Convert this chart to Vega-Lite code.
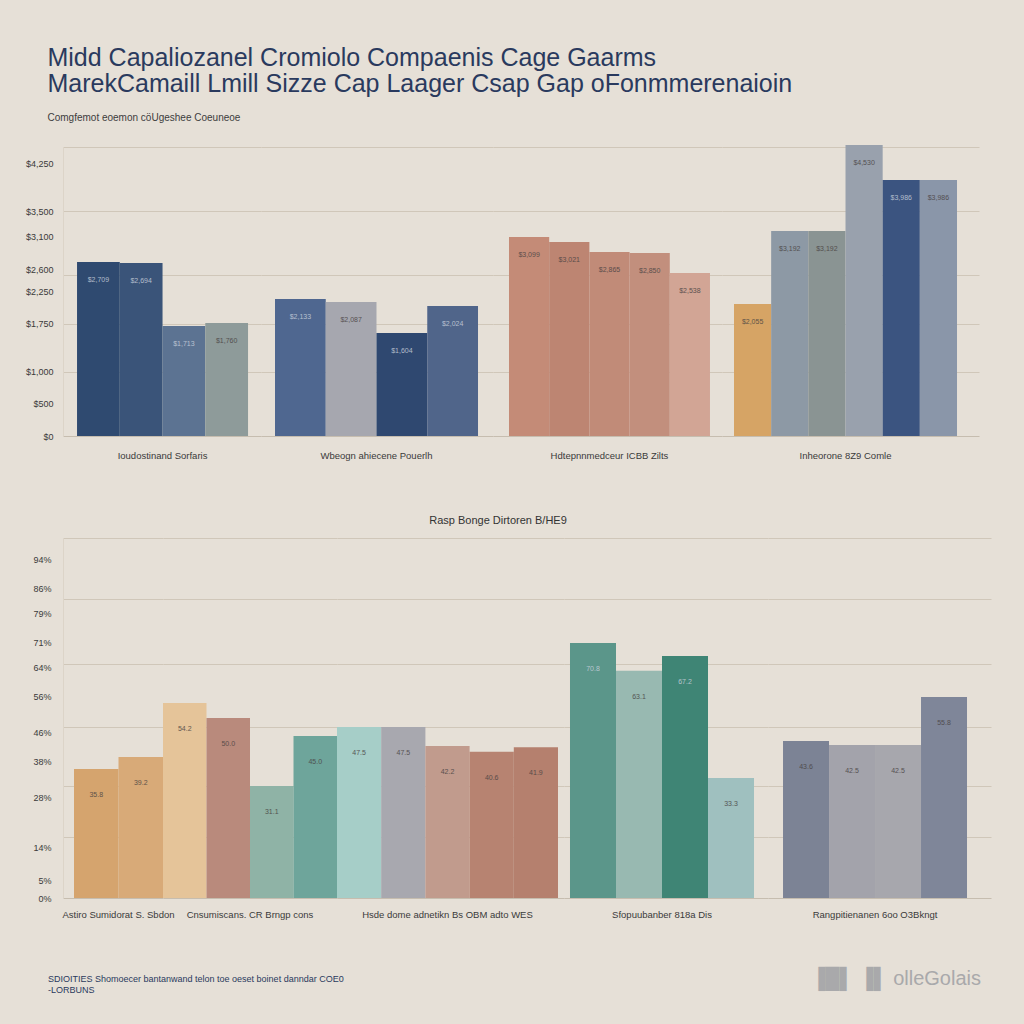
{
  "$schema": "https://vega.github.io/schema/vega-lite/v6.json",
  "background": "#e6e0d7",
  "padding": {"left": 25, "top": 46, "right": 36, "bottom": 32},
  "title": {
    "text": ["Midd  Capaliozanel Cromiolo Compaenis Cage Gaarms", "MarekCamaill  Lmill Sizze Cap  Laager Csap Gap  oFonmmerenaioin"],
    "subtitle": "Comgfemot eoemon cöUgeshee Coeuneoe",
    "anchor": "start", "fontSize": 25, "fontWeight": "normal", "color": "#2a3a5e", "lineHeight": 26,
    "subtitleFontSize": 10, "subtitleColor": "#3d3d3d", "subtitlePadding": 16, "offset": 22, "dx": 22
  },
  "data": {"name": "bars"},
  "datasets": {
    "bars": [
      {"panel": "P1", "group": "Ioudostinand Sorfaris", "bar": "T01", "value": 2709},
      {"panel": "P1", "group": "Ioudostinand Sorfaris", "bar": "T02", "value": 2694},
      {"panel": "P1", "group": "Ioudostinand Sorfaris", "bar": "T03", "value": 1713},
      {"panel": "P1", "group": "Ioudostinand Sorfaris", "bar": "T04", "value": 1760},
      {"panel": "P2", "group": "Wbeogn ahiecene Pouerlh", "bar": "T05", "value": 2133},
      {"panel": "P2", "group": "Wbeogn ahiecene Pouerlh", "bar": "T06", "value": 2087},
      {"panel": "P2", "group": "Wbeogn ahiecene Pouerlh", "bar": "T07", "value": 1604},
      {"panel": "P2", "group": "Wbeogn ahiecene Pouerlh", "bar": "T08", "value": 2024},
      {"panel": "P3", "group": "Hdtepnnmedceur ICBB Zilts", "bar": "T09", "value": 3099},
      {"panel": "P3", "group": "Hdtepnnmedceur ICBB Zilts", "bar": "T10", "value": 3021},
      {"panel": "P3", "group": "Hdtepnnmedceur ICBB Zilts", "bar": "T11", "value": 2865},
      {"panel": "P3", "group": "Hdtepnnmedceur ICBB Zilts", "bar": "T12", "value": 2850},
      {"panel": "P3", "group": "Hdtepnnmedceur ICBB Zilts", "bar": "T13", "value": 2538},
      {"panel": "P4", "group": "Inheorone 8Z9 Comle", "bar": "T14", "value": 2055},
      {"panel": "P4", "group": "Inheorone 8Z9 Comle", "bar": "T15", "value": 3192},
      {"panel": "P4", "group": "Inheorone 8Z9 Comle", "bar": "T16", "value": 3192},
      {"panel": "P4", "group": "Inheorone 8Z9 Comle", "bar": "T17", "value": 4530},
      {"panel": "P4", "group": "Inheorone 8Z9 Comle", "bar": "T18", "value": 3986},
      {"panel": "P4", "group": "Inheorone 8Z9 Comle", "bar": "T19", "value": 3986},
      {"panel": "Q1", "group": "Astiro Sumidorat S. Sbdon", "bar": "B01", "value": 35.8},
      {"panel": "Q1", "group": "Astiro Sumidorat S. Sbdon", "bar": "B02", "value": 39.2},
      {"panel": "Q2", "group": "Cnsumiscans. CR Brngp cons", "bar": "B03", "value": 54.2},
      {"panel": "Q2", "group": "Cnsumiscans. CR Brngp cons", "bar": "B04", "value": 50.0},
      {"panel": "Q2", "group": "Cnsumiscans. CR Brngp cons", "bar": "B05", "value": 31.1},
      {"panel": "Q2", "group": "Cnsumiscans. CR Brngp cons", "bar": "B06", "value": 45.0},
      {"panel": "Q3", "group": "Hsde dome adnetikn Bs OBM adto WES", "bar": "B07", "value": 47.5},
      {"panel": "Q3", "group": "Hsde dome adnetikn Bs OBM adto WES", "bar": "B08", "value": 47.5},
      {"panel": "Q3", "group": "Hsde dome adnetikn Bs OBM adto WES", "bar": "B09", "value": 42.2},
      {"panel": "Q3", "group": "Hsde dome adnetikn Bs OBM adto WES", "bar": "B10", "value": 40.6},
      {"panel": "Q3", "group": "Hsde dome adnetikn Bs OBM adto WES", "bar": "B11", "value": 41.9},
      {"panel": "Q4", "group": "Sfopuubanber 818a Dis", "bar": "B12", "value": 70.8},
      {"panel": "Q4", "group": "Sfopuubanber 818a Dis", "bar": "B13", "value": 63.1},
      {"panel": "Q4", "group": "Sfopuubanber 818a Dis", "bar": "B14", "value": 67.2},
      {"panel": "Q4", "group": "Sfopuubanber 818a Dis", "bar": "B15", "value": 33.3},
      {"panel": "Q5", "group": "Rangpitienanen 6oo O3Bkngt", "bar": "B16", "value": 43.6},
      {"panel": "Q5", "group": "Rangpitienanen 6oo O3Bkngt", "bar": "B17", "value": 42.5},
      {"panel": "Q5", "group": "Rangpitienanen 6oo O3Bkngt", "bar": "B18", "value": 42.5},
      {"panel": "Q5", "group": "Rangpitienanen 6oo O3Bkngt", "bar": "B19", "value": 55.8}
    ]
  },
  "spacing": 55,
  "vconcat": [
    {
      "hconcat": [
        {
          "width": 198, "height": 289,
          "transform": [{"filter": "datum.panel == 'P1'"}],
          "encoding": {
            "x": {"field": "group", "type": "nominal", "title": null, "scale": {"paddingInner": 0, "paddingOuter": 0.0789, "align": 0.52}, "axis": {"labelAngle": 0, "labelFontSize": 9.5, "labelPadding": 14, "labelLimit": 0}},
            "xOffset": {"field": "bar", "type": "nominal", "scale": {"paddingInner": 0, "paddingOuter": 0}},
            "y": {"field": "value", "type": "quantitative", "title": null, "scale": {"domain": [0, 4500], "nice": false}, "axis": {"values": [0, 500, 1000, 1750, 2250, 2500, 2600, 3100, 3500, 4250, 4500], "labelExpr": "indexof([0, 500, 1000, 1750, 2250, 2600, 3100, 3500, 4250], datum.value) >= 0 ? format(datum.value, '$,') : ''", "gridColor": {"condition": {"test": "indexof([1000, 1750, 2500, 3500, 4500], datum.value) >= 0", "value": "#d0c7b9"}, "value": "rgba(0,0,0,0)"}, "labelFontSize": 9, "labelPadding": 10, "domainColor": "#dcd4c8"}}
          },
          "layer": [
            {"mark": {"type": "bar"}, "encoding": {"color": {"field": "bar", "type": "nominal", "legend": null}}},
            {"mark": {"type": "text", "baseline": "top", "dy": 14, "fontSize": 7, "opacity": 0.85}, "encoding": {"text": {"field": "value", "type": "quantitative", "format": "$,.0f"}, "color": {"condition": {"test": "indexof(['T01','T02','T03','T05','T07','T08','T18','B12','B14'], datum.bar) >= 0", "value": "#c8d0dc"}, "value": "#4a4444"}}}
          ]
        },
        {
          "width": 232, "height": 289,
          "transform": [{"filter": "datum.panel == 'P2'"}],
          "encoding": {
            "x": {"field": "group", "type": "nominal", "title": null, "scale": {"paddingInner": 0, "paddingOuter": 0.0714, "align": 0.483}, "axis": {"labelAngle": 0, "labelFontSize": 9.5, "labelPadding": 14, "labelLimit": 0}},
            "xOffset": {"field": "bar", "type": "nominal", "scale": {"paddingInner": 0, "paddingOuter": 0}},
            "y": {"field": "value", "type": "quantitative", "title": null, "scale": {"domain": [0, 4500], "nice": false}, "axis": {"values": [1000, 1750, 2500, 3500, 4500], "labels": false, "domain": false, "gridColor": "#d0c7b9"}}
          },
          "layer": [
            {"mark": {"type": "bar"}, "encoding": {"color": {"field": "bar", "type": "nominal", "legend": null}}},
            {"mark": {"type": "text", "baseline": "top", "dy": 14, "fontSize": 7, "opacity": 0.85}, "encoding": {"text": {"field": "value", "type": "quantitative", "format": "$,.0f"}, "color": {"condition": {"test": "indexof(['T01','T02','T03','T05','T07','T08','T18','B12','B14'], datum.bar) >= 0", "value": "#c8d0dc"}, "value": "#4a4444"}}}
          ]
        },
        {
          "width": 229, "height": 289,
          "transform": [{"filter": "datum.panel == 'P3'"}],
          "encoding": {
            "x": {"field": "group", "type": "nominal", "title": null, "scale": {"paddingInner": 0, "paddingOuter": 0.0697, "align": 0.571}, "axis": {"labelAngle": 0, "labelFontSize": 9.5, "labelPadding": 14, "labelLimit": 0}},
            "xOffset": {"field": "bar", "type": "nominal", "scale": {"paddingInner": 0, "paddingOuter": 0}},
            "y": {"field": "value", "type": "quantitative", "title": null, "scale": {"domain": [0, 4500], "nice": false}, "axis": {"values": [1000, 1750, 2500, 3500, 4500], "labels": false, "domain": false, "gridColor": "#d0c7b9"}}
          },
          "layer": [
            {"mark": {"type": "bar"}, "encoding": {"color": {"field": "bar", "type": "nominal", "legend": null}}},
            {"mark": {"type": "text", "baseline": "top", "dy": 14, "fontSize": 7, "opacity": 0.85}, "encoding": {"text": {"field": "value", "type": "quantitative", "format": "$,.0f"}, "color": {"condition": {"test": "indexof(['T01','T02','T03','T05','T07','T08','T18','B12','B14'], datum.bar) >= 0", "value": "#c8d0dc"}, "value": "#4a4444"}}}
          ]
        },
        {
          "width": 257, "height": 289,
          "transform": [{"filter": "datum.panel == 'P4'"}],
          "encoding": {
            "x": {"field": "group", "type": "nominal", "title": null, "scale": {"paddingInner": 0, "paddingOuter": 0.0762, "align": 0.353}, "axis": {"labelAngle": 0, "labelFontSize": 9.5, "labelPadding": 14, "labelLimit": 0}},
            "xOffset": {"field": "bar", "type": "nominal", "scale": {"paddingInner": 0, "paddingOuter": 0}},
            "y": {"field": "value", "type": "quantitative", "title": null, "scale": {"domain": [0, 4500], "nice": false}, "axis": {"values": [1000, 1750, 2500, 3500, 4500], "labels": false, "domain": false, "gridColor": "#d0c7b9"}}
          },
          "layer": [
            {"mark": {"type": "bar"}, "encoding": {"color": {"field": "bar", "type": "nominal", "legend": null}}},
            {"mark": {"type": "text", "baseline": "top", "dy": 14, "fontSize": 7, "opacity": 0.85}, "encoding": {"text": {"field": "value", "type": "quantitative", "format": "$,.0f"}, "color": {"condition": {"test": "indexof(['T01','T02','T03','T05','T07','T08','T18','B12','B14'], datum.bar) >= 0", "value": "#c8d0dc"}, "value": "#4a4444"}}}
          ]
        }
      ],
      "spacing": 0,
      "bounds": "flush",
      "resolve": {"scale": {"x": "independent", "xOffset": "independent", "y": "independent"}}
    },
    {
      "vconcat": [
        {
          "vconcat": [
            {
              "title": {"text": "Rasp Bonge Dirtoren B/HE9", "anchor": "middle", "fontSize": 11, "fontWeight": "normal", "color": "#333333", "offset": 12, "dx": -14},
              "hconcat": [
                {
                  "width": 100, "height": 360,
                  "transform": [{"filter": "datum.panel == 'Q1'"}],
                  "encoding": {
                    "x": {"field": "group", "type": "nominal", "title": null, "scale": {"paddingInner": 0, "paddingOuter": 0.0618, "align": 1}, "axis": {"labelAngle": 0, "labelFontSize": 9.5, "labelPadding": 11, "labelLimit": 0}},
                    "xOffset": {"field": "bar", "type": "nominal", "scale": {"paddingInner": 0, "paddingOuter": 0}},
                    "y": {"field": "value", "type": "quantitative", "title": null, "scale": {"domain": [0, 100], "nice": false}, "axis": {"values": [0, 5, 14, 17, 28, 31, 38, 46, 47.5, 56, 64, 65, 71, 79, 83, 86, 94, 100], "labelExpr": "indexof([0, 5, 14, 28, 38, 46, 56, 64, 71, 79, 86, 94], datum.value) >= 0 ? datum.value + '%' : ''", "gridColor": {"condition": {"test": "indexof([17, 31, 47.5, 65, 83, 100], datum.value) >= 0", "value": "#d0c7b9"}, "value": "rgba(0,0,0,0)"}, "labelFontSize": 9, "labelPadding": 12, "domainColor": "#dcd4c8"}}
                  },
                  "layer": [
                    {"mark": {"type": "bar"}, "encoding": {"color": {"field": "bar", "type": "nominal", "legend": null}}},
                    {"mark": {"type": "text", "baseline": "top", "dy": 22, "fontSize": 7, "opacity": 0.85}, "encoding": {"text": {"field": "value", "type": "quantitative", "format": ".1f"}, "color": {"condition": {"test": "indexof(['T01','T02','T03','T05','T07','T08','T18','B12','B14'], datum.bar) >= 0", "value": "#c8d0dc"}, "value": "#4a4444"}}}
                  ]
                },
                {
                  "width": 174, "height": 360,
                  "transform": [{"filter": "datum.panel == 'Q2'"}],
                  "encoding": {
                    "x": {"field": "group", "type": "nominal", "title": null, "scale": {"paddingInner": 0, "paddingOuter": 0, "align": 0.5}, "axis": {"labelAngle": 0, "labelFontSize": 9.5, "labelPadding": 11, "labelLimit": 0}},
                    "xOffset": {"field": "bar", "type": "nominal", "scale": {"paddingInner": 0, "paddingOuter": 0}},
                    "y": {"field": "value", "type": "quantitative", "title": null, "scale": {"domain": [0, 100], "nice": false}, "axis": {"values": [17, 31, 47.5, 65, 83, 100], "labels": false, "domain": false, "gridColor": "#d0c7b9"}}
                  },
                  "layer": [
                    {"mark": {"type": "bar"}, "encoding": {"color": {"field": "bar", "type": "nominal", "legend": null}}},
                    {"mark": {"type": "text", "baseline": "top", "dy": 22, "fontSize": 7, "opacity": 0.85}, "encoding": {"text": {"field": "value", "type": "quantitative", "format": ".1f"}, "color": {"condition": {"test": "indexof(['T01','T02','T03','T05','T07','T08','T18','B12','B14'], datum.bar) >= 0", "value": "#c8d0dc"}, "value": "#4a4444"}}}
                  ]
                },
                {
                  "width": 227, "height": 360,
                  "transform": [{"filter": "datum.panel == 'Q3'"}],
                  "encoding": {
                    "x": {"field": "group", "type": "nominal", "title": null, "scale": {"paddingInner": 0, "paddingOuter": 0.01357, "align": 0}, "axis": {"labelAngle": 0, "labelFontSize": 9.5, "labelPadding": 11, "labelLimit": 0}},
                    "xOffset": {"field": "bar", "type": "nominal", "scale": {"paddingInner": 0, "paddingOuter": 0}},
                    "y": {"field": "value", "type": "quantitative", "title": null, "scale": {"domain": [0, 100], "nice": false}, "axis": {"values": [17, 31, 47.5, 65, 83, 100], "labels": false, "domain": false, "gridColor": "#d0c7b9"}}
                  },
                  "layer": [
                    {"mark": {"type": "bar"}, "encoding": {"color": {"field": "bar", "type": "nominal", "legend": null}}},
                    {"mark": {"type": "text", "baseline": "top", "dy": 22, "fontSize": 7, "opacity": 0.85}, "encoding": {"text": {"field": "value", "type": "quantitative", "format": ".1f"}, "color": {"condition": {"test": "indexof(['T01','T02','T03','T05','T07','T08','T18','B12','B14'], datum.bar) >= 0", "value": "#c8d0dc"}, "value": "#4a4444"}}}
                  ]
                },
                {
                  "width": 204, "height": 360,
                  "transform": [{"filter": "datum.panel == 'Q4'"}],
                  "encoding": {
                    "x": {"field": "group", "type": "nominal", "title": null, "scale": {"paddingInner": 0, "paddingOuter": 0.0543, "align": 0.3}, "axis": {"labelAngle": 0, "labelFontSize": 9.5, "labelPadding": 11, "labelLimit": 0}},
                    "xOffset": {"field": "bar", "type": "nominal", "scale": {"paddingInner": 0, "paddingOuter": 0}},
                    "y": {"field": "value", "type": "quantitative", "title": null, "scale": {"domain": [0, 100], "nice": false}, "axis": {"values": [17, 31, 47.5, 65, 83, 100], "labels": false, "domain": false, "gridColor": "#d0c7b9"}}
                  },
                  "layer": [
                    {"mark": {"type": "bar"}, "encoding": {"color": {"field": "bar", "type": "nominal", "legend": null}}},
                    {"mark": {"type": "text", "baseline": "top", "dy": 22, "fontSize": 7, "opacity": 0.85}, "encoding": {"text": {"field": "value", "type": "quantitative", "format": ".1f"}, "color": {"condition": {"test": "indexof(['T01','T02','T03','T05','T07','T08','T18','B12','B14'], datum.bar) >= 0", "value": "#c8d0dc"}, "value": "#4a4444"}}}
                  ]
                },
                {
                  "width": 223, "height": 360,
                  "transform": [{"filter": "datum.panel == 'Q5'"}],
                  "encoding": {
                    "x": {"field": "group", "type": "nominal", "title": null, "scale": {"paddingInner": 0, "paddingOuter": 0.106, "align": 0.385}, "axis": {"labelAngle": 0, "labelFontSize": 9.5, "labelPadding": 11, "labelLimit": 0}},
                    "xOffset": {"field": "bar", "type": "nominal", "scale": {"paddingInner": 0, "paddingOuter": 0}},
                    "y": {"field": "value", "type": "quantitative", "title": null, "scale": {"domain": [0, 100], "nice": false}, "axis": {"values": [17, 31, 47.5, 65, 83, 100], "labels": false, "domain": false, "gridColor": "#d0c7b9"}}
                  },
                  "layer": [
                    {"mark": {"type": "bar"}, "encoding": {"color": {"field": "bar", "type": "nominal", "legend": null}}},
                    {"mark": {"type": "text", "baseline": "top", "dy": 22, "fontSize": 7, "opacity": 0.85}, "encoding": {"text": {"field": "value", "type": "quantitative", "format": ".1f"}, "color": {"condition": {"test": "indexof(['T01','T02','T03','T05','T07','T08','T18','B12','B14'], datum.bar) >= 0", "value": "#c8d0dc"}, "value": "#4a4444"}}}
                  ]
                }
              ],
              "spacing": 0,
              "bounds": "flush",
              "resolve": {"scale": {"x": "independent", "xOffset": "independent", "y": "independent"}}
            }
          ],
          "title": {"text": ["SDIOITIES   Shomoecer bantanwand telon toe oeset boinet danndar COE0", "-LORBUNS"], "orient": "bottom", "anchor": "start", "fontSize": 9, "fontWeight": "normal", "color": "#2a3a5e", "offset": 56, "dx": 15}
        }
      ],
      "title": {"text": "▐█▌ ▐▌ olleGolais", "orient": "bottom", "anchor": "end", "fontSize": 20, "fontWeight": "normal", "color": "#a9a9ab", "offset": -26, "dx": -10}
    }
  ],
  "config": {
    "view": {"stroke": null},
    "font": "Liberation Sans",
    "axis": {"ticks": false, "labelColor": "#3a3a3a", "domainColor": "#c6bdaf", "labelFont": "Liberation Sans"},
    "bar": {"stroke": null},
    "range": {
      "category": ["#d5a46e", "#d8aa78", "#e5c499", "#b98a7c", "#8fb3a6", "#6ea59b", "#a6cec8", "#a8a8af", "#c19b8d", "#b78371", "#b5806e", "#5b968a", "#98b9b1", "#3f8575", "#9fc0bf", "#7c8395", "#a3a3ab", "#a7a7ad", "#7f8699",
                   "#2f4a70", "#3a5479", "#5c7392", "#8e9b9a", "#4f6790", "#a6a7af", "#2f4870", "#50658a", "#c48b77", "#bd8572", "#c18b78", "#c28f7d", "#d2a595", "#d6a465", "#8d99a5", "#8a9493", "#99a1ad", "#3b5480", "#8a96a9"]
    }
  }
}
